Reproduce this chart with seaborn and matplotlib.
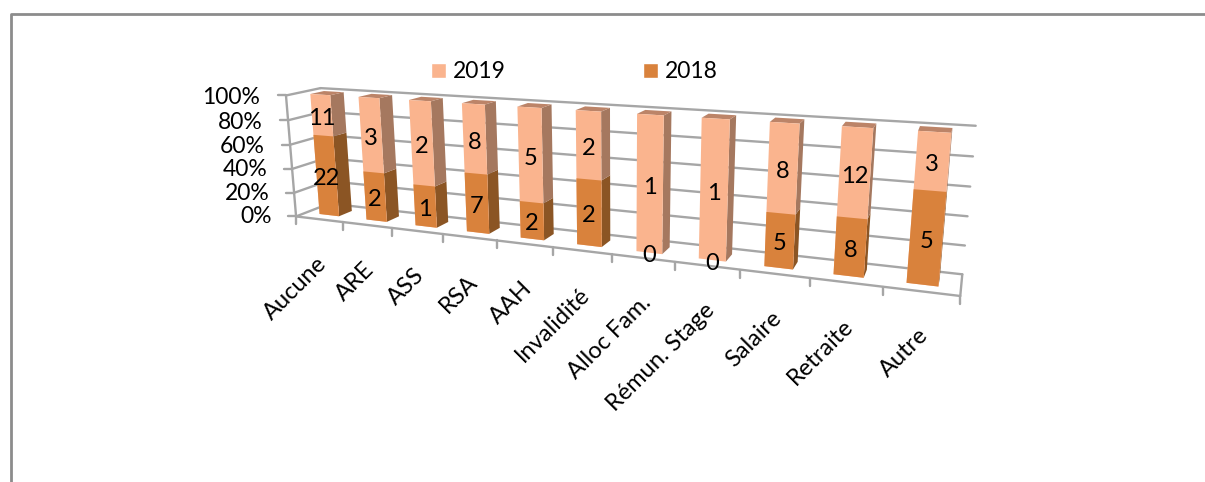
import numpy as np
import matplotlib
matplotlib.use("Agg")
import matplotlib.pyplot as plt
from matplotlib.lines import Line2D
from matplotlib.patches import Polygon, Patch
from matplotlib.transforms import Transform, IdentityTransform, Affine2D
import seaborn as sns

categories = ["Aucune", "ARE", "ASS", "RSA", "AAH", "Invalidité", "Alloc Fam.",
              "Rémun. Stage", "Salaire", "Retraite", "Autre"]
counts_2018 = [22, 2, 1, 7, 2, 2, 0, 0, 5, 8, 5]
counts_2019 = [11, 3, 2, 8, 5, 2, 1, 1, 8, 12, 3]
percent_ticks = [0, 20, 40, 60, 80, 100]

W, H = 1205, 482
sns.set_theme(style="white")
plt.rcParams["font.family"] = ["Lato", "DejaVu Sans"]

c19, c18 = "#FAB48E", "#D9823C"
s19, s18 = "#A5785F", "#8B5524"
t19 = "#BC8468"
grid = "#A6A6A6"
bw, a = 0.42, 0.75

# camera calibration of the Excel 3-D box: (category pos, percent, depth) -> pixel
calib = [
    ((-bw/2, 100, 0), (310, 94)), ((-bw/2, 0, 0), (323, 213)),
    ((10+bw/2, 100, 0), (951, 133)), ((10+bw/2, 0, 0), (938, 287)),
    ((bw/2, 100, 1), (346, 92)), ((bw/2, 0, 1), (356, 209)),
    ((8+bw/2, 100, 1), (803, 119)), ((10+bw/2, 100, 1), (952, 128)),
    ((-.5, 0, -a), (298, 215)), ((10.5, 0, -a), (961, 298)),
    ((-.5, 100, -a), (283, 96)), ((-.5, 100, -a), (283, 96)), ((-.5, 100, 1+a), (325, 88)),
    ((10.5, 100, 1+a), (977, 125)), ((10.5, 0, 1+a), (962, 273)),
    ((-.5, 0, 1+a), (320, 207)),
]
A, b = [], []
for (u, p, d), (x, y) in calib:
    A.append([u, p, d, 1, 0, 0, 0, 0, -x*u, -x*p, -x*d]); b.append(x)
    A.append([0, 0, 0, 0, u, p, d, 1, -y*u, -y*p, -y*d]); b.append(y)
A, b = np.array(A, float), np.array(b, float)
scale = np.array([1, .1, 1, 1, 1, .1, 1, 1, 1, .1, 1], float)
sol = np.linalg.lstsq(A*scale, b, rcond=None)[0]*scale
P = np.append(sol, 1).reshape(3, 4)


def project(u, p, d):
    h = P @ np.vstack([u, p, d, np.ones_like(np.asarray(u, float))])
    return np.column_stack([h[0]/h[2], H - h[1]/h[2]])


class FrontPlane(Transform):
    input_dims = output_dims = 2

    def __init__(self, d=0.0):
        super().__init__()
        self.d = d

    def transform_non_affine(self, values):
        v = np.asarray(values, float)
        return project(v[:, 0], v[:, 1], np.full(len(v), self.d))


front = FrontPlane()
total = np.array(counts_2018, float) + np.array(counts_2019, float)
share18 = 100*np.array(counts_2018)/total

fig = plt.figure(figsize=(W/100, H/100), dpi=100, facecolor="white")
ax = fig.add_axes([0, 0, 1, 1])
ident = IdentityTransform()


def line(us, ps, ds, **kw):
    xy = project(np.array(us, float), np.array(ps, float), np.array(ds, float))
    ax.add_line(Line2D(xy[:, 0], xy[:, 1], transform=ident, color=grid, lw=1.7,
                       zorder=1, clip_on=False, **kw))


# walls and floor
back = 1 + a
for p in percent_ticks:
    line([-.5, 10.5], [p, p], [back, back])
    line([-.5, -.5], [p, p], [-a, back])
    xy = project(np.array([-.5]), np.array([p]), np.array([-a]))[0]
    ax.add_line(Line2D([xy[0]-8, xy[0]], [xy[1], xy[1]], transform=ident, color=grid, lw=1.7, zorder=1))
    ax.text(xy[0]-24-p*0.02, xy[1]-p*0.025, f"{p}%", transform=ident, ha="right", va="center",
            fontsize=16.5, color="black", zorder=5)
line([-.5, -.5], [0, 100], [-a, -a])
line([-.5, 10.5], [0, 0], [-a, -a])
line([10.5, 10.5], [0, 0], [-a, back])
for i in range(12):
    xy = project(np.array([i-.5]), np.array([0.]), np.array([-a]))[0]
    ax.add_line(Line2D([xy[0], xy[0]], [xy[1], xy[1]-8], transform=ident, color=grid, lw=1.7, zorder=1))

# bar sides and tops
for i, s in enumerate(share18):
    r = i + bw/2
    l = i - bw/2
    for lo, hi, col in ((0, s, s18), (s, 100, s19)):
        if hi > lo:
            xy = project(np.array([r, r, r, r]), np.array([lo, hi, hi, lo]), np.array([0, 0, 1, 1.]))
            ax.add_patch(Polygon(xy, transform=ident, fc=col, ec="none", zorder=2))
    xy = project(np.array([l, r, r, l]), np.full(4, 100.), np.array([0, 0, 1, 1.]))
    ax.add_patch(Polygon(xy, transform=ident, fc=t19, ec="none", zorder=2))

# front faces: seaborn bars laid on the perspective plane
sns.barplot(x=categories, y=[100.0]*len(categories), color=c19, saturation=1, width=bw,
            errorbar=None, ax=ax, zorder=3)
sns.barplot(x=categories, y=list(share18), color=c18, saturation=1, width=bw,
            errorbar=None, ax=ax, zorder=3)
for patch in ax.patches:
    if not isinstance(patch, Polygon):
        patch.set_transform(front)
        patch.set_clip_on(False)
        patch.set_linewidth(0)
ax.set_xlim(0, W)
ax.set_ylim(0, H)
ax.set_axis_off()

# value labels
shift = front + Affine2D().translate(0, -3)
for i, (c18v, c19v, s) in enumerate(zip(counts_2018, counts_2019, share18)):
    ax.text(i, s/2, str(c18v), transform=shift, ha="center", va="center", fontsize=17,
            color="black", zorder=6, clip_on=False)
    ax.text(i, (s+100)/2, str(c19v), transform=shift, ha="center", va="center", fontsize=17,
            color="black", zorder=6, clip_on=False)

# category labels hang from the front floor edge
for i, name in enumerate(categories):
    xy = project(np.array([float(i)]), np.array([0.]), np.array([-a]))[0]
    ax.text(xy[0]+4, xy[1]-41, name, transform=ident, rotation=45,
            rotation_mode="anchor", ha="right", va="center", fontsize=17, color="black", zorder=6)

# legend
handles = [Patch(fc=c19, label="2019"), Patch(fc=c18, label="2018")]
ax.legend(handles=handles, ncol=2, frameon=False, fontsize=16.5, loc="center left",
          bbox_to_anchor=(431/W, 1-72/H), bbox_transform=fig.transFigure, borderpad=0,
          borderaxespad=0, handlelength=0.65, handleheight=0.65, handletextpad=0.31,
          columnspacing=6.0, labelcolor="black")

# chart frame
fig.add_artist(Line2D([10.5/W, 10.5/W, 1], [0, 1-13.5/H, 1-13.5/H], transform=fig.transFigure,
                      color="#8C8C8C", lw=2))

fig.savefig("out.png", dpi=100, facecolor="white")
